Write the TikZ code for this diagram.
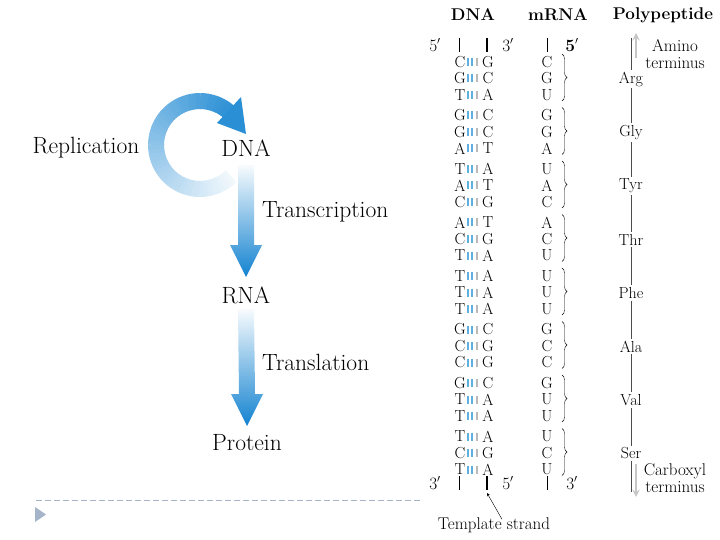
\documentclass[tikz,border=0pt]{standalone}
\usepackage{tikz}
\usetikzlibrary{positioning,decorations.pathreplacing,calc}

\definecolor{flowblue}{RGB}{18,130,208}
\definecolor{pairblue}{RGB}{95,175,225}
\definecolor{slidegray}{RGB}{165,180,200}

% shaded block arrow from top point #1 down to tip #2
\newcommand{\flowarrow}[2]{%
  \shade[top color=flowblue!3, middle color=flowblue!50, bottom color=flowblue]
    ($(#1)+(-8,0)$) -- ($(#2)+(-8,-32)$) -- ($(#2)+(-16,-32)$) -- (#2)
    -- ($(#2)+(16,-32)$) -- ($(#2)+(8,-32)$) -- ($(#1)+(8,0)$) -- cycle;}

\begin{document}
\begin{tikzpicture}
  [x=1pt, y=-1pt, >=stealth,
  big/.style={font=\fontsize{23.5}{27}\selectfont, inner sep=1pt},
  base/.style={font=\fontsize{16}{17}\selectfont, inner sep=0pt},
  header/.style={font=\bfseries\fontsize{17}{19}\selectfont, inner sep=0pt},
  note/.style={font=\fontsize{17}{17.5}\selectfont, inner sep=0pt, align=center},
  acid/.style={base, inner sep=2pt},
  template/.style={line width=1.4pt},
  terminus/.style={->, line width=2.2pt, gray!45}]

  \useasboundingbox (0,0) rectangle (720,540);

  % central dogma
  \node [big] (dna)  at (246,148) {DNA};
  \node [big] (rna)  at (246,295) {RNA};
  \node [big] (prot) at (247,443) {Protein};
  \node [big] (repl) at (86,148)  {Replication};
  \node [big, anchor=west] (trsc) at (261,212) {Transcription};
  \node [big, anchor=west] (trsl) at (261,362) {Translation};

  \coordinate (s1) at ($(dna)+(0,17)$);
  \coordinate (e1) at ($(rna)+(0,-18)$);
  \coordinate (s2) at ($(rna)+(0,14)$);
  \coordinate (e2) at ($(prot)+(0,-17)$);
  \flowarrow{s1}{e1}
  \flowarrow{s2}{e2}

  % replication loop
  \coordinate (loop) at ($(dna)+(-46,-3)$);
  \foreach \a in {45,50,...,305} {
    \pgfmathtruncatemacro\p{6+0.315*(\a-45)}
    \draw [flowblue!\p!white, line width=16pt]
      ($(loop)+({44*cos(\a)},{44*sin(\a)})$)
      arc [start angle=-\a, end angle=-\a-6, radius=44pt];
  }
  \coordinate (h1) at ($(loop)+(41,-48)$);
  \coordinate (h2) at ($(loop)+(46,-11)$);
  \coordinate (h3) at ($(loop)+(17,-22)$);
  \fill [flowblue!90!white] (h1) -- (h2) -- (h3) -- cycle;

  % slide marks
  \draw [slidegray, dash pattern=on 6pt off 3pt] (36,500) -- (423,500);
  \fill [slidegray] (35,507) -- (46,514.5) -- (35,522) -- cycle;

  % columns
  \node [header] (hdna)  at (473,15) {DNA};
  \node [header] (hmrna) at (558,15) {mRNA};
  \node [header] (hpoly) at (663,15) {Polypeptide};

  \node [base] (t5) at (435,45) {$5'$};
  \node [base] (t3) at (508,45) {$3'$};
  \node [base] (tm) at (572,45) {$\mathbf{5'}$};
  \node [base] (b3) at (435,483) {$3'$};
  \node [base] (b5) at (508,483) {$5'$};
  \node [base] (bm) at (572,483) {$3'$};
  \draw (459,38) -- (459,52);
  \draw [template] (487,38) -- (487,52);
  \draw (547,38) -- (547,52);
  \draw (459,476) -- (459,490);
  \draw [template] (487,476) -- (487,490);
  \draw (547,476) -- (547,490);

  \foreach \l/\r/\m [count=\i from 0] in {C/G/C, G/C/G, T/A/U, G/C/G, G/C/G, A/T/A,
      T/A/U, A/T/A, C/G/C, A/T/A, C/G/C, T/A/U, T/A/U, T/A/U, T/A/U, G/C/G, C/G/C, C/G/C,
      G/C/G, T/A/U, T/A/U, T/A/U, C/G/C, T/A/U} {
    \pgfmathsetmacro\y{62+53.5*floor(\i/3)+16.5*mod(\i,3)}
    \node [base] (l\i) at (460,\y) {\l};
    \node [base] (r\i) at (488,\y) {\r};
    \node [base] (m\i) at (547,\y) {\m};
    \foreach \bx/\bc in {468/pairblue, 472/pairblue, 476.5/gray!55}
      \draw [\bc, line width=2pt] (\bx,\y-4) -- (\bx,\y+4);
  }

  \foreach \aa [count=\k from 0] in {Arg,Gly,Tyr,Thr,Phe,Ala,Val,Ser} {
    \pgfmathsetmacro\y{62+53.5*\k}
    \draw [decorate, decoration={brace, amplitude=5pt}] (562,\y-8) -- (562,\y+39);
    \node [acid] (a\k) at (631,\y+17) {\aa};
  }

  \coordinate (ptop) at (631,38);
  \coordinate (pbot) at (631,492);
  \draw [gray!60!black] (ptop) -- (a0);
  \foreach \k in {0,...,6} {
    \pgfmathtruncatemacro\n{\k+1}
    \draw [gray!60!black] (a\k) -- (a\n);
  }
  \draw [gray!60!black] (a7) -- (pbot);

  \draw [terminus] (636,58) -- (636,33);
  \draw [terminus] (636,464) -- (636,497);
  \node [note] (amino) at (675,54)  {Amino\\terminus};
  \node [note] (carb)  at (675,478) {Carboxyl\\terminus};

  \node [note] (tstr) at (494,525) {Template strand};
  \coordinate (tmpl) at (487,493);
  \draw [->] ([xshift=8pt,yshift=-2pt]tstr.north) -- (tmpl);
\end{tikzpicture}
\end{document}
